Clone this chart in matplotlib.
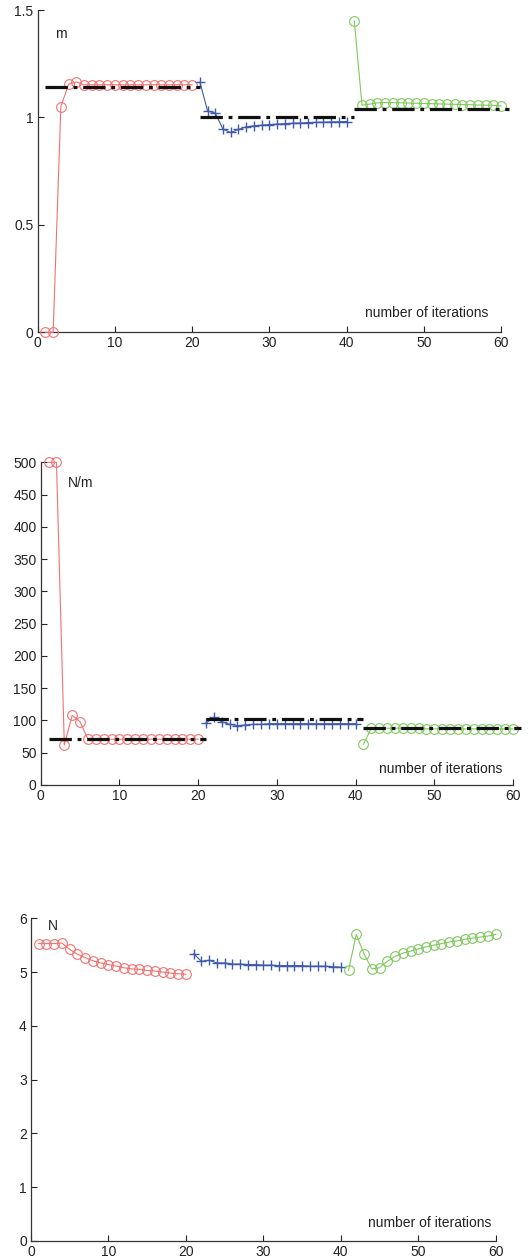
import numpy as np
import matplotlib
matplotlib.use("Agg")
import matplotlib.pyplot as plt

plt.rcParams["font.family"] = ["Liberation Sans", "DejaVu Sans"]

# iterations for each of the three runs
it_red = list(range(1, 21))
it_blue = list(range(21, 41))
it_green = list(range(41, 61))

# panel 1: length (m)
m_red = [0, 0, 1.05, 1.155, 1.165, 1.152, 1.152, 1.152, 1.152, 1.152,
         1.152, 1.152, 1.152, 1.152, 1.152, 1.152, 1.152, 1.152, 1.152, 1.152]
m_blue = [1.165, 1.03, 1.02, 0.945, 0.93, 0.944, 0.956, 0.961, 0.964, 0.967,
          0.969, 0.971, 0.973, 0.974, 0.976, 0.977, 0.978, 0.979, 0.98, 0.981]
m_green = [1.449, 1.057, 1.062, 1.068, 1.069, 1.069, 1.068, 1.067, 1.066, 1.065,
           1.064, 1.063, 1.062, 1.061, 1.06, 1.059, 1.058, 1.057, 1.056, 1.054]
m_ref = [1.14, 1.0, 1.04]

# panel 2: stiffness (N/m)
k_red = [500, 500, 62, 108, 98, 71, 71, 71, 71, 71,
         71, 71, 71, 71, 71, 71, 71, 71, 71, 71]
k_blue = [96, 105, 98, 94, 92, 93, 94, 94, 95, 95,
          95, 95, 95, 95, 95, 95, 95, 95, 95, 95]
k_green = [63, 88, 88, 88, 88, 88, 88, 88, 87, 87,
           87, 87, 87, 87, 87, 87, 87, 87, 87, 87]
k_ref = [72, 103, 89]

# panel 3: force (N)
f_red = [5.53, 5.53, 5.53, 5.54, 5.42, 5.33, 5.27, 5.21, 5.17, 5.14,
         5.11, 5.08, 5.06, 5.05, 5.03, 5.02, 5.0, 4.98, 4.97, 4.96]
f_blue = [5.34, 5.2, 5.22, 5.17, 5.17, 5.15, 5.15, 5.14, 5.14, 5.13,
          5.13, 5.12, 5.12, 5.12, 5.12, 5.11, 5.11, 5.11, 5.1, 5.09]
f_green = [5.03, 5.7, 5.34, 5.06, 5.08, 5.2, 5.29, 5.35, 5.39, 5.43,
           5.47, 5.5, 5.53, 5.56, 5.58, 5.61, 5.63, 5.65, 5.67, 5.7]

ref_spans = [(1, 21), (21, 41), (41, 61)]

RED = "#f27272"
BLUE = "#3f5aaa"
GREEN = "#80c85e"

W, H = 532, 1259
fig = plt.figure(figsize=(W / 100, H / 100), dpi=100)


def make_axes(left, right, top, bottom):
    return fig.add_axes([left / W, 1 - bottom / H, (right - left) / W, (bottom - top) / H])


def style(ax, ylim, yticks, ylabels, unit, unit_xy, xlab_xy):
    ax.set_xlim(0, 60)
    ax.set_ylim(*ylim)
    ax.set_xticks(range(0, 61, 10))
    ax.set_yticks(yticks)
    ax.set_yticklabels(ylabels)
    for s in ("top", "right"):
        ax.spines[s].set_visible(False)
    for s in ("left", "bottom"):
        ax.spines[s].set_linewidth(0.9)
        ax.spines[s].set_color("#333333")
    ax.tick_params(direction="in", length=4, width=0.8, labelsize=10,
                   colors="#222222", pad=3)
    ax.text(*xlab_xy, "number of iterations", transform=ax.transAxes,
            fontsize=10, ha="right", va="center", color="#222222")
    ax.text(*unit_xy, unit, transform=ax.transAxes, fontsize=10,
            ha="left", va="center", color="#222222")


def runs(ax, red, blue, green):
    kw = dict(lw=0.8, ms=7, clip_on=False, zorder=3)
    ax.plot(it_red, red, "o-", color=RED, mfc="none", mew=0.8, **kw)
    ax.plot(it_blue, blue, "+-", color=BLUE, mew=1.0, **kw)
    ax.plot(it_green, green, "o-", color=GREEN, mfc="none", mew=0.8, **kw)


def refs(ax, levels):
    for (x0, x1), v in zip(ref_spans, levels):
        ax.plot([x0, x1], [v, v], color="#111111", lw=2.3,
                ls=(0, (7, 1.8, 1.2, 1.8)), dash_capstyle="butt",
                clip_on=False, zorder=4)


ax1 = make_axes(37.7, 501, 10, 332.3)
runs(ax1, m_red, m_blue, m_green)
refs(ax1, m_ref)
style(ax1, (0, 1.5), [0, 0.5, 1, 1.5], ["0", "0.5", "1", "1.5"], "m",
      (0.037, 0.925), (0.972, 0.06))

ax2 = make_axes(40.7, 513, 462.3, 785)
runs(ax2, k_red, k_blue, k_green)
refs(ax2, k_ref)
style(ax2, (0, 500), list(range(0, 501, 50)), [str(v) for v in range(0, 501, 50)],
      "N/m", (0.058, 0.935), (0.977, 0.05))

ax3 = make_axes(31, 495.7, 918.3, 1241)
runs(ax3, f_red, f_blue, f_green)
style(ax3, (0, 6), list(range(7)), [str(v) for v in range(7)], "N",
      (0.036, 0.975), (0.99, 0.057))

fig.savefig("out.png", dpi=100)
